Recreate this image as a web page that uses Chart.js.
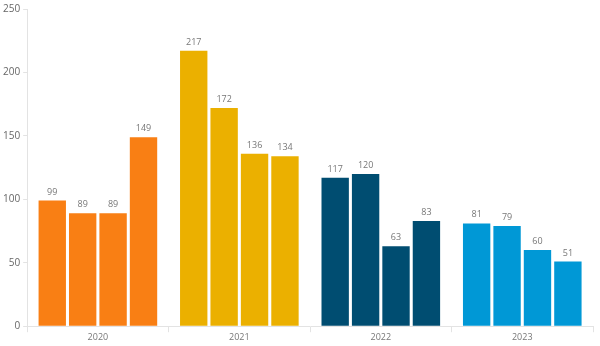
<!DOCTYPE html>
<html><head><meta charset="utf-8">
<script src="https://cdn.jsdelivr.net/npm/chart.js@4/dist/chart.umd.min.js"></script>
<style>html,body{margin:0;padding:0;background:#fff}#wrap{width:600px;height:346px}</style>
</head><body><div id="wrap"><canvas id="c"></canvas></div>
<script>
const years = ['2020','2021','2022','2023'];
const q1 = [99, 217, 117, 81];
const q2 = [89, 172, 120, 79];
const q3 = [89, 136, 63, 60];
const q4 = [149, 134, 83, 51];
const yearColors = ['#F97F14', '#EBB000', '#004D71', '#0098D6'];
const yTicks = [0, 50, 100, 150, 200, 250];

const labelPlugin = {
  id: 'barLabels',
  afterDatasetsDraw(chart) {
    const ctx = chart.ctx;
    ctx.save();
    ctx.font = '9px "Open Sans"';
    ctx.fillStyle = '#777';
    ctx.textAlign = 'center';
    ctx.textBaseline = 'bottom';
    chart.data.datasets.forEach((ds, i) => {
      chart.getDatasetMeta(i).data.forEach((bar, j) => {
        ctx.fillText(String(ds.data[j]), bar.x, bar.y - 4);
      });
    });
    ctx.restore();
  }
};

const mk = (label, data) => ({label, data, backgroundColor: yearColors, borderColor: '#ffffff', borderWidth: 0});
new Chart(document.getElementById('c'), {
  type: 'bar',
  data: { labels: years, datasets: [mk('Q1', q1), mk('Q2', q2), mk('Q3', q3), mk('Q4', q4)] },
  options: {
    responsive: true, maintainAspectRatio: false, animation: false,
    layout: { padding: { top: 6, right: 7, left: 0, bottom: 3 } },
    plugins: { legend: { display: false }, tooltip: { enabled: false } },
    datasets: { bar: { categoryPercentage: 0.86, barPercentage: 0.9 } },
    scales: {
      x: {
        grid: { display: true, drawOnChartArea: false, tickLength: 6, color: '#e3e3e3' },
        border: { color: '#e3e3e3' },
        ticks: { color: '#777', font: { family: 'Open Sans', size: 9 }, padding: 0 }
      },
      y: {
        min: 0, max: 250,
        afterBuildTicks: (s) => { s.ticks = yTicks.map(v => ({value: v})); },
        grid: { display: true, drawOnChartArea: false, tickLength: 4, color: '#e3e3e3' },
        border: { color: '#e3e3e3' },
        ticks: { color: '#666', font: { family: 'Open Sans', size: 10 }, padding: 3 }
      }
    }
  },
  plugins: [labelPlugin]
});
</script></body></html>
